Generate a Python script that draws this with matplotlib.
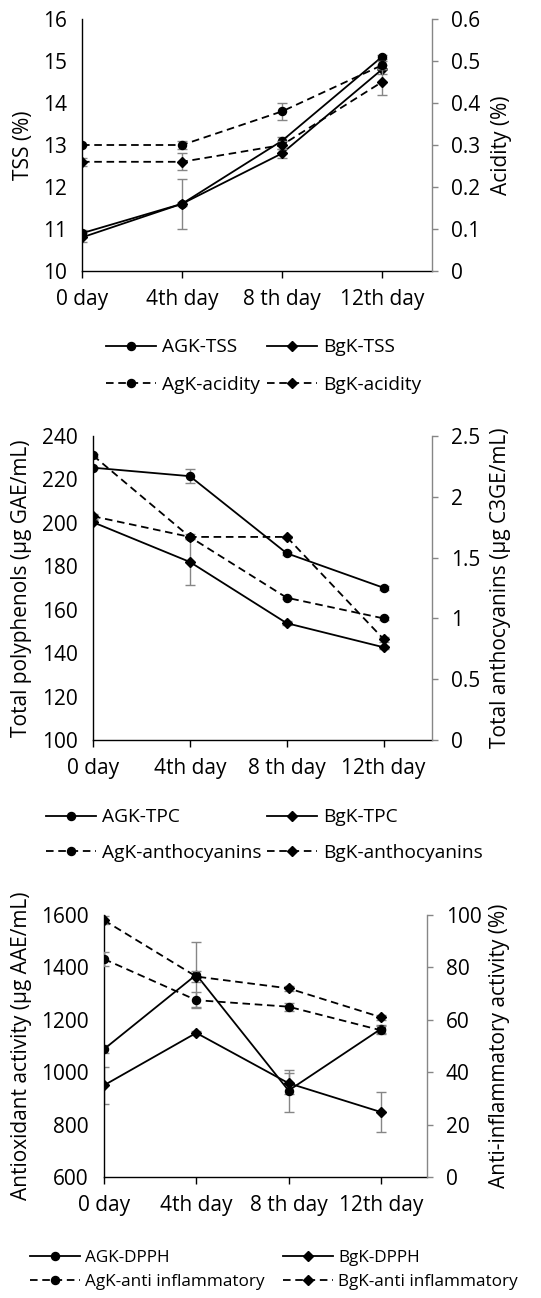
import matplotlib
matplotlib.use('Agg')
import matplotlib.pyplot as plt
from matplotlib.lines import Line2D

plt.rcParams['font.family'] = ['Open Sans', 'DejaVu Sans']

days = ['0 day', '4th day', '8 th day', '12th day']

# Panel 1: TSS (left) and acidity (right)
agk_tss = [10.9, 11.6, 13.1, 15.1]
agk_tss_err = [0.08, 0.05, 0.1, 0.05]
bgk_tss = [10.8, 11.6, 12.8, 14.8]
bgk_tss_err = [0.1, 0.6, 0.1, 0.1]
agk_acid = [0.30, 0.30, 0.38, 0.49]
agk_acid_err = [0.0, 0.01, 0.02, 0.01]
bgk_acid = [0.26, 0.26, 0.30, 0.45]
bgk_acid_err = [0.01, 0.02, 0.01, 0.03]

# Panel 2: TPC (left) and anthocyanins (right)
agk_tpc = [225.4, 221.5, 186.0, 170.1]
agk_tpc_err = [0.5, 3.2, 0.8, 0.8]
bgk_tpc = [200.3, 182.0, 153.8, 142.7]
bgk_tpc_err = [0.8, 10.5, 0.8, 0.8]
agk_anth = [2.34, 1.67, 1.17, 1.00]
agk_anth_err = [0.01, 0.01, 0.01, 0.01]
bgk_anth = [1.84, 1.67, 1.67, 0.83]
bgk_anth_err = [0.02, 0.02, 0.01, 0.02]

# Panel 3: DPPH (left) and anti-inflammatory (right)
agk_dpph = [1088, 1372, 930, 1165]
agk_dpph_err = [14, 125, 80, 15]
bgk_dpph = [950, 1150, 958, 848]
bgk_dpph_err = [70, 8, 40, 75]
agk_anti = [83.2, 67.5, 65.0, 56.0]
agk_anti_err = [2.7, 3.0, 1.5, 1.5]
bgk_anti = [98.0, 76.5, 72.0, 61.0]
bgk_anti_err = [1.5, 2.0, 1.0, 1.0]

W, H = 541, 1298
fig = plt.figure(figsize=(W / 100, H / 100), dpi=100)

GREY = '#868686'
FS_TICK = 15
FS_LAB = 15


def rect(l, r, t, b):
    return [l / W, 1 - b / H, (r - l) / W, (b - t) / H]


def draw(ax, y, err, marker, ls):
    ms = 5.8 if marker == 'o' else 5.0
    kw = dict(color='black', lw=1.3, marker=marker, ms=ms, ecolor=GREY,
              elinewidth=1.0, capsize=3.5, capthick=1.0)
    cont = ax.errorbar(range(len(y)), y, yerr=err, ls='-', **kw)
    if ls == '--':
        cont.lines[0].set_dashes((4.2, 2.6))


def panel(r, lefts, rights, llim, lticks, rlim, rticks, rlabels,
          ylab_l, ylab_r, lab_x_l, lab_x_r):
    ax = fig.add_axes(rect(*r))
    ax2 = ax.twinx()
    ax2.set_position(rect(*r))
    for y, e, m in lefts:
        draw(ax, y, e, m, '-')
    for y, e, m in rights:
        draw(ax2, y, e, m, '--')
    ax.set_xlim(0, 3.5)
    ax.set_ylim(*llim)
    ax.set_yticks(lticks)
    ax.set_yticklabels([str(t) for t in lticks])
    ax2.set_ylim(*rlim)
    ax2.set_yticks(rticks)
    ax2.set_yticklabels(rlabels)
    ax.set_xticks(range(4))
    ax.set_xticklabels(days)
    for s in ['top', 'right']:
        ax.spines[s].set_visible(False)
    for s in ['top', 'left', 'bottom']:
        ax2.spines[s].set_visible(False)
    ax.spines['left'].set_color('black')
    ax.spines['bottom'].set_color('black')
    ax2.spines['right'].set_color(GREY)
    for s in ax.spines.values():
        s.set_linewidth(1.0)
    ax2.spines['right'].set_linewidth(1.0)
    ax.tick_params(axis='y', length=0, pad=11, labelsize=FS_TICK)
    ax.tick_params(axis='x', length=5, width=1.0, direction='out', pad=8,
                   labelsize=FS_TICK, color='black')
    ax2.tick_params(axis='y', length=4.5, width=1.0, color=GREY, pad=9,
                    labelsize=FS_TICK)
    ax.set_ylabel(ylab_l, fontsize=FS_LAB)
    ax2.set_ylabel(ylab_r, fontsize=FS_LAB, rotation=90)
    ax.yaxis.set_label_coords((lab_x_l - r[0]) / (r[1] - r[0]), 0.5)
    ax2.yaxis.set_label_coords((lab_x_r - r[0]) / (r[1] - r[0]), 0.5)
    ax.yaxis.label.set_va('center')
    ax2.yaxis.label.set_va('center')
    ax.yaxis.label.set_rotation_mode('anchor')
    ax2.yaxis.label.set_rotation_mode('anchor')
    return ax, ax2


def legend(labels, x1, x2, yc, fs, spacing):
    h_a = Line2D([], [], color='black', lw=1.3, marker='o', ms=5.8)
    h_b = Line2D([], [], color='black', lw=1.3, marker='D', ms=5.0)
    h_c = Line2D([], [], color='black', lw=1.3, marker='o', ms=5.8, dashes=(4.2, 2.6))
    h_d = Line2D([], [], color='black', lw=1.3, marker='D', ms=5.0, dashes=(4.2, 2.6))
    hl = 50 / (fs * 100 / 72)
    common = dict(loc='center left', frameon=False, borderpad=0, borderaxespad=0,
                  handlelength=hl, handletextpad=0.3, labelspacing=spacing,
                  prop={'size': fs, 'family': ['Open Sans', 'DejaVu Sans']})
    fig.legend([h_a, h_c], [labels[0], labels[2]],
               bbox_to_anchor=(x1 / W, 1 - yc / H), **common)
    fig.legend([h_b, h_d], [labels[1], labels[3]],
               bbox_to_anchor=(x2 / W, 1 - yc / H), **common)


# Panel 1
panel((82, 432, 19, 271),
      [(agk_tss, agk_tss_err, 'o'), (bgk_tss, bgk_tss_err, 'D')],
      [(agk_acid, agk_acid_err, 'o'), (bgk_acid, bgk_acid_err, 'D')],
      (10, 16), [10, 11, 12, 13, 14, 15, 16],
      (0, 0.6), [0, 0.1, 0.2, 0.3, 0.4, 0.5, 0.6],
      ['0', '0.1', '0.2', '0.3', '0.4', '0.5', '0.6'],
      'TSS (%)', 'Acidity (%)', 23, 502)
legend(['AGK-TSS', 'BgK-TSS', 'AgK-acidity', 'BgK-acidity'], 106, 267, 366, 13.8, 1.0)

# Panel 2
panel((93, 432, 436, 740),
      [(agk_tpc, agk_tpc_err, 'o'), (bgk_tpc, bgk_tpc_err, 'D')],
      [(agk_anth, agk_anth_err, 'o'), (bgk_anth, bgk_anth_err, 'D')],
      (100, 240), [100, 120, 140, 160, 180, 200, 220, 240],
      (0, 2.5), [0, 0.5, 1, 1.5, 2, 2.5],
      ['0', '0.5', '1', '1.5', '2', '2.5'],
      'Total polyphenols (µg GAE/mL)', 'Total anthocyanins (µg C3GE/mL)', 22, 500)
legend(['AGK-TPC', 'BgK-TPC', 'AgK-anthocyanins', 'BgK-anthocyanins'], 46, 267, 835, 13.8, 0.9)

# Panel 3
panel((104, 427, 915, 1177),
      [(agk_dpph, agk_dpph_err, 'o'), (bgk_dpph, bgk_dpph_err, 'D')],
      [(agk_anti, agk_anti_err, 'o'), (bgk_anti, bgk_anti_err, 'D')],
      (600, 1600), [600, 800, 1000, 1200, 1400, 1600],
      (0, 100), [0, 20, 40, 60, 80, 100],
      ['0', '20', '40', '60', '80', '100'],
      'Antioxidant activity (µg AAE/mL)', 'Anti-inflammatory activity (%)', 22, 500)
legend(['AGK-DPPH', 'BgK-DPPH', 'AgK-anti inflammatory', 'BgK-anti inflammatory'], 30, 283, 1270, 12.3, 0.5)

fig.savefig('out.png', dpi=100)
